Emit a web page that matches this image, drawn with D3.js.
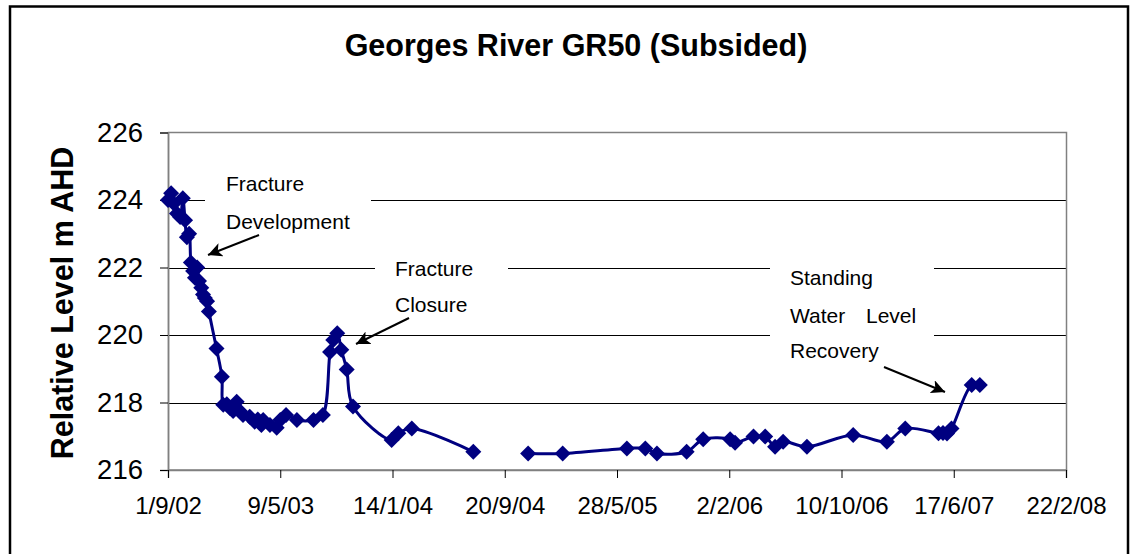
<!DOCTYPE html>
<html lang="en">

<head>
    <meta charset="UTF-8">
    <style>
        body { margin: 0; background: #fff; }
        text { font-family: Arial, "Liberation Sans", sans-serif; }
    </style>
</head>

<body>
    <svg width="1133" height="554"></svg>
    <script src="https://d3js.org/d3.v7.min.js"></script>
    <script>
        // readings (null = no reading, line breaks there)
        let dates = [
            "2002-09-01", "2002-09-08", "2002-09-14", "2002-09-21", "2002-09-28", "2002-10-04",
            "2002-10-09", "2002-10-13", "2002-10-18", "2002-10-22", "2002-10-27", "2002-10-31",
            "2002-11-05", "2002-11-09", "2002-11-14", "2002-11-18", "2002-11-22", "2002-11-27",
            "2002-12-01", "2002-12-18", "2002-12-30", "2003-01-02", "2003-01-10", "2003-01-17",
            "2003-01-24", "2003-02-01", "2003-02-08", "2003-02-15", "2003-03-02", "2003-03-13",
            "2003-03-20", "2003-03-28", "2003-04-01", "2003-04-16", "2003-05-01", "2003-05-09",
            "2003-05-22", "2003-06-15", "2003-07-22", "2003-08-12", "2003-08-28", "2003-09-04",
            "2003-09-13", "2003-09-22", "2003-10-04", "2003-10-18", "2004-01-12", "2004-01-27",
            "2004-02-26", "2004-07-12", "2004-09-15", "2004-11-11", "2005-01-27", "2005-06-19",
            "2005-07-30", "2005-08-25", "2005-10-30", "2005-12-06", "2006-02-04", "2006-02-15",
            "2006-03-28", "2006-04-23", "2006-05-15", "2006-06-02", "2006-07-25", "2006-11-05",
            "2007-01-19", "2007-03-01", "2007-05-14", "2007-05-24", "2007-06-02", "2007-06-12",
            "2007-07-27", "2007-08-14"
        ]
        let levels = [
            224.0, 224.2, 223.9, 223.6, 223.5, 224.05,
            223.4, 222.9, 223.0, 222.15, 221.9, 221.7,
            222.0, 221.6, 221.4, 221.2, 221.1, 221.0,
            220.7, 219.6, 218.76, 217.93, 217.95, 217.84,
            217.75, 218.02, 217.75, 217.63, 217.58, 217.43,
            217.5, 217.33, 217.48, 217.33, 217.25, 217.48,
            217.63, 217.48, 217.48, 217.63, 219.5, 219.85,
            220.05, 219.56, 218.98, 217.88, 216.89, 217.09,
            217.23, 216.54, null, 216.49, 216.49, 216.64,
            216.64, 216.49, 216.54, 216.91, 216.91, 216.81,
            216.99, 216.99, 216.69, 216.84, 216.69, 217.04,
            216.84, 217.23, 217.09, 217.1, 217.08, 217.23,
            218.52, 218.52
        ]
        let yTicks = [216, 218, 220, 222, 224, 226]
        let xTickDates = ["2002-09-01", "2003-05-09", "2004-01-14", "2004-09-20", "2005-05-28",
            "2006-02-02", "2006-10-10", "2007-06-17", "2008-02-22"]
        let xTickLabels = ["1/9/02", "9/5/03", "14/1/04", "20/9/04", "28/5/05",
            "2/2/06", "10/10/06", "17/6/07", "22/2/08"]
        let notes = [
            { lines: ["Fracture", "Development"], box: [205, 168, 166, 72] },
            { lines: ["Fracture", "Closure"], box: [375, 248, 133, 78] },
            { lines: ["Standing", "Water Level", "Recovery"], box: [770, 255, 164, 118] }
        ]

        let parse = d3.utcParse("%Y-%m-%d")
        let data = dates.map((d, i) => ({ date: parse(d), level: levels[i] }))

        let pLeft = 168, pRight = 1066, pTop = 132.5, pBottom = 470
        let svg = d3.select("svg")

        svg.append("rect")
            .attr("x", 10).attr("y", 6.5).attr("width", 1118).attr("height", 600)
            .attr("fill", "#fff").attr("stroke", "#000").attr("stroke-width", 2.5)

        let x = d3.scaleUtc()
            .domain([parse(xTickDates[0]), parse(xTickDates[xTickDates.length - 1])])
            .range([pLeft, pRight])
        let y = d3.scaleLinear().domain([216, 226]).range([pBottom, pTop])

        // gridlines
        svg.append("g").selectAll("line")
            .data(yTicks.slice(1, -1))
            .enter().append("line")
            .attr("x1", pLeft).attr("x2", pRight)
            .attr("y1", d => Math.round(y(d)) + .5).attr("y2", d => Math.round(y(d)) + .5)
            .attr("stroke", "#000").attr("stroke-width", 1)

        // white boxes of the text notes, they cut the gridlines
        svg.append("g").selectAll("rect")
            .data(notes)
            .enter().append("rect")
            .attr("x", d => d.box[0]).attr("y", d => d.box[1])
            .attr("width", d => d.box[2]).attr("height", d => d.box[3])
            .attr("fill", "#fff")

        // plot area frame
        svg.append("rect")
            .attr("x", pLeft + .5).attr("y", pTop).attr("width", pRight - pLeft).attr("height", pBottom - pTop)
            .attr("fill", "none").attr("stroke", "#808080").attr("stroke-width", 1.5)

        let yAxis = d3.axisLeft(y).tickValues(yTicks).tickSize(8).tickPadding(17).tickFormat(d3.format("d"))
        let gy = svg.append("g").attr("transform", `translate(${pLeft},0)`).call(yAxis)
        gy.select(".domain").attr("stroke", "#808080").attr("stroke-width", 1.5)
        gy.selectAll(".tick line").attr("stroke", "#000")
        gy.selectAll(".tick text").attr("font-size", 27.5).attr("fill", "#000")
            .attr("font-family", "Arial, 'Liberation Sans', sans-serif")

        let xAxis = d3.axisBottom(x).tickValues(xTickDates.map(parse)).tickSize(8).tickPadding(19)
            .tickFormat((d, i) => xTickLabels[i])
        let gx = svg.append("g").attr("transform", `translate(0,${pBottom})`).call(xAxis)
        gx.select(".domain").attr("stroke", "#808080").attr("stroke-width", 1.5)
        gx.selectAll(".tick line").attr("stroke", "#000")
        gx.selectAll(".tick text").attr("font-size", 24).attr("fill", "#000")
            .attr("font-family", "Arial, 'Liberation Sans', sans-serif")

        // series
        let line = d3.line()
            .defined(d => d.level != null)
            .x(d => x(d.date))
            .y(d => y(d.level))
            .curve(d3.curveCatmullRom.alpha(0.5))

        svg.append("path")
            .attr("d", line(data))
            .attr("fill", "none")
            .attr("stroke", "#000080")
            .attr("stroke-width", 3)

        svg.append("g").selectAll("path")
            .data(data.filter(d => d.level != null))
            .enter().append("path")
            .attr("d", "M0,-8L8,0L0,8L-8,0Z")
            .attr("transform", d => `translate(${x(d.date)},${y(d.level)})`)
            .attr("fill", "#000080")

        // title and axis title
        svg.append("text")
            .attr("x", 576).attr("y", 56)
            .attr("text-anchor", "middle")
            .attr("font-size", 30.5).attr("font-weight", "bold")
            .text("Georges River GR50 (Subsided)")

        svg.append("text")
            .attr("transform", "translate(73,303) rotate(-90)")
            .attr("text-anchor", "middle")
            .attr("font-size", 30.5).attr("font-weight", "bold")
            .text("Relative Level m AHD")

        // note texts
        let noteText = [
            { s: "Fracture", x: 226, y: 191 },
            { s: "Development", x: 226, y: 229 },
            { s: "Fracture", x: 395, y: 276 },
            { s: "Closure", x: 395, y: 312 },
            { s: "Standing", x: 790, y: 285 },
            { s: "Water", x: 790, y: 323 },
            { s: "Level", x: 866, y: 323 },
            { s: "Recovery", x: 790, y: 358 }
        ]
        svg.append("g").selectAll("text")
            .data(noteText)
            .enter().append("text")
            .attr("x", d => d.x).attr("y", d => d.y)
            .attr("font-size", 21)
            .text(d => d.s)

        // arrows
        svg.append("defs").append("marker")
            .attr("id", "head")
            .attr("viewBox", "0 0 10 10")
            .attr("refX", 10).attr("refY", 5)
            .attr("markerWidth", 7).attr("markerHeight", 7)
            .attr("markerUnits", "strokeWidth")
            .attr("orient", "auto")
            .append("path").attr("d", "M0,0L10,5L0,10L2.5,5Z").attr("fill", "#000")

        let arrows = [
            [259, 235, 208, 255],
            [409, 318, 356, 344],
            [884, 367, 945, 392]
        ]
        svg.append("g").selectAll("line")
            .data(arrows)
            .enter().append("line")
            .attr("x1", d => d[0]).attr("y1", d => d[1])
            .attr("x2", d => d[2]).attr("y2", d => d[3])
            .attr("stroke", "#000").attr("stroke-width", 2)
            .attr("marker-end", "url(#head)")
    </script>
</body>

</html>
